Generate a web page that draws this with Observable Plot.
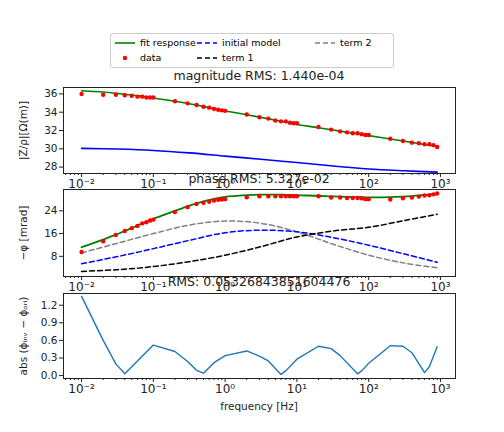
<!DOCTYPE html>
<html><head><meta charset="utf-8">
<script src="https://cdn.jsdelivr.net/npm/d3@7"></script>
<script src="https://cdn.jsdelivr.net/npm/@observablehq/plot@0.6"></script>
<style>
body{margin:0;background:#fff;font-family:"DejaVu Sans",sans-serif;}
#wrap{position:relative;width:504px;height:432px;}
.p{position:absolute;left:0;}
.t{position:absolute;width:392px;left:63px;text-align:center;font-size:12.5px;color:#222;}
#legend{position:absolute;left:110px;top:33px;width:282px;height:33px;border:1px solid #ccc;border-radius:3px;font-size:9.5px;}
.li{position:absolute;display:flex;align-items:center;gap:5px;white-space:nowrap;}
</style></head>
<body><div id="wrap">
<div id="legend"></div>
<div class="t" style="top:68px">magnitude RMS: 1.440e-04</div>
<div class="t" style="top:171px">phase RMS: 5.327e-02</div>
<div class="t" style="top:274px">RMS: 0.05326843851604476</div>
<div class="t" style="top:400px;font-size:10.5px">frequency [Hz]</div>
</div>
<script>
const freq = [0.01,0.02,0.03,0.04,0.05,0.06,0.07,0.08,0.09,0.1,0.2,0.3,0.4,0.5,0.6,0.7,0.8,0.9,1,2,3,4,5,6,7,8,9,10,20,30,40,50,60,70,80,90,100,200,300,400,500,600,700,800,900];
const magData = [36.0,35.9,35.9,35.85,35.8,35.7,35.7,35.6,35.6,35.6,35.2,34.97,34.78,34.6,34.5,34.35,34.27,34.2,34.15,33.75,33.45,33.3,33.1,33.0,33.0,32.85,32.8,32.8,32.38,32.1,31.9,31.8,31.7,31.7,31.6,31.5,31.5,31.1,30.85,30.67,30.6,30.5,30.5,30.4,30.2];
const magFit = [36.35,36.2,36.07,35.97,35.88,35.8,35.73,35.66,35.6,35.55,35.2,34.96,34.78,34.63,34.5,34.39,34.29,34.21,34.14,33.72,33.46,33.28,33.13,33.01,32.9,32.81,32.73,32.66,32.3,32.08,31.93,31.81,31.71,31.63,31.56,31.5,31.44,31.08,30.86,30.7,30.58,30.47,30.38,30.3,30.2];
const modelF = [0.01,0.0316,0.1,0.316,1,3.16,10,31.6,100,316,900];
const magInit = [30.05,29.97,29.82,29.55,29.2,28.85,28.5,28.12,27.8,27.6,27.45];
const phData = [9.5,13.3,15.5,16.9,17.9,18.7,19.6,20.0,20.6,20.9,23.6,25.3,26.4,26.8,27.2,27.6,27.9,28.0,28.1,28.8,29.1,29.1,29.1,29.1,29.1,29.1,29.1,29.1,29.1,28.7,28.7,28.5,28.5,28.5,28.4,28.1,28.1,28.0,28.4,28.7,29.0,29.4,29.5,29.8,30.1];
const phFit = [11.2,13.9,15.6,16.9,17.9,18.8,19.5,20.1,20.7,21.2,24.0,25.6,26.6,27.3,27.8,28.2,28.5,28.7,28.9,29.5,29.7,29.7,29.7,29.7,29.6,29.6,29.6,29.5,29.3,29.1,29.0,28.9,28.8,28.8,28.8,28.7,28.7,28.8,29.0,29.2,29.4,29.6,29.7,29.9,30.1];
const phInit = [5.4,7.9,10.7,13.6,16.3,17.2,16.6,14.6,11.9,8.8,5.9];
const phTerm1 = [2.7,3.3,4.4,6.1,8.4,11.4,14.8,16.9,18.2,20.6,22.8];
const phTerm2 = [9.2,12.6,16.0,19.0,20.4,19.6,16.6,12.3,8.4,5.6,4.0];
const errF = [0.01,0.02,0.03,0.04,0.1,0.2,0.3,0.4,0.5,0.7,1,2,3,4,6,7,10,20,30,40,70,80,100,200,300,400,600,700,900];
const errV = [1.35,0.6,0.2,0.03,0.52,0.41,0.24,0.09,0.04,0.22,0.34,0.42,0.33,0.25,0.02,0.08,0.28,0.5,0.46,0.34,0.03,0.08,0.21,0.51,0.5,0.39,0.05,0.15,0.49];

const sup = {"-":"⁻","0":"⁰","1":"¹","2":"²","3":"³"};
const fmtPow = d => "10" + String(Math.round(Math.log10(d))).split("").map(c => sup[c]).join("");
const major = [0.01,0.1,1,10,100,1000];
const minor = [];
for (let e=-3;e<=3;e++) for (let m=2;m<=9;m++){const v=m*10**e; if(v>0.0056&&v<1600) minor.push(v);}

function panel(top, frameH, yDomain, yTicks, yLabel, marks){
  const h = frameH + 5 + 22;
  const p = Plot.plot({
    width:504, height:h, marginLeft:63, marginRight:49, marginTop:5, marginBottom:22,
    style:{fontFamily:"DejaVu Sans", fontSize:"10.5px", color:"#222", background:"transparent", overflow:"visible"},
    x:{type:"log", domain:[0.0056,1620]},
    y:{domain:yDomain},
    marks:[
      Plot.frame({stroke:"#222"}),
      Plot.axisX(major,{tickSize:4,tickPadding:2,tickFormat:fmtPow,fontSize:12,label:null}),
      Plot.axisX(minor,{tickSize:2,tickFormat:null,label:null}),
      Plot.axisY(yTicks,{tickSize:4,tickPadding:2,label:yLabel,labelAnchor:"center",labelArrow:"none",labelOffset:44,fontSize:10.5}),
      ...marks
    ]
  });
  p.classList.add("p"); p.style.top = top+"px";
  document.getElementById("wrap").appendChild(p);
}
const mg = freq.map((f,i)=>({f,d:magData[i],fit:magFit[i]}));
const md = modelF.map((f,i)=>({f,m:magInit[i],pi:phInit[i],t1:phTerm1[i],t2:phTerm2[i]}));
const ph = freq.map((f,i)=>({f,d:phData[i],fit:phFit[i]}));
const er = errF.map((f,i)=>({f,v:errV[i]}));
const dash = "5,3";
panel(82,86,[27.3,36.7],[28,30,32,34,36],"|Z/ρ|[Ω(m)]",[
  Plot.line(md,{x:"f",y:"m",stroke:"blue",strokeWidth:1.6,curve:"catmull-rom"}),
  Plot.line(mg,{x:"f",y:"fit",stroke:"green",strokeWidth:1.6,curve:"catmull-rom"}),
  Plot.dot(mg,{x:"f",y:"d",r:2.2,fill:"red"})
]);
panel(184,87,[0.9,31.5],[8,16,24],"−φ [mrad]",[
  Plot.line(md,{x:"f",y:"t2",stroke:"gray",strokeWidth:1.5,strokeDasharray:dash,curve:"catmull-rom"}),
  Plot.line(md,{x:"f",y:"pi",stroke:"blue",strokeWidth:1.5,strokeDasharray:dash,curve:"catmull-rom"}),
  Plot.line(md,{x:"f",y:"t1",stroke:"black",strokeWidth:1.5,strokeDasharray:dash,curve:"catmull-rom"}),
  Plot.line(ph,{x:"f",y:"fit",stroke:"green",strokeWidth:1.8,curve:"catmull-rom"}),
  Plot.dot(ph,{x:"f",y:"d",r:2.2,fill:"red"})
]);
panel(288,85,[-0.05,1.4],[0,0.3,0.6,0.9,1.2],"abs (ϕᵢₙᵥ − ϕₒᵣᵢ)",[
  Plot.line(er,{x:"f",y:"v",stroke:"#1f77b4",strokeWidth:1.4})
]);

const items = [
  ["fit response",4,3,"solid","green"],["data",4,18,"dot","red"],
  ["initial model",86,3,"dash","blue"],["term 1",86,18,"dash","black"],
  ["term 2",204,3,"dash","gray"]];
const lg = document.getElementById("legend");
for (const [t,x,y,k,c] of items){
  const d=document.createElement("div"); d.className="li"; d.style.left=x+"px"; d.style.top=y+"px";
  const sym = k==="dot" ? `<circle cx="10" cy="5" r="2.2" fill="${c}"/>` :
    `<line x1="0" x2="20" y1="5" y2="5" stroke="${c}" stroke-width="1.6" ${k==="dash"?'stroke-dasharray="5,3"':''}/>`;
  d.innerHTML = `<svg width="20" height="10">${sym}</svg><span>${t}</span>`;
  lg.appendChild(d);
}
</script></body></html>
